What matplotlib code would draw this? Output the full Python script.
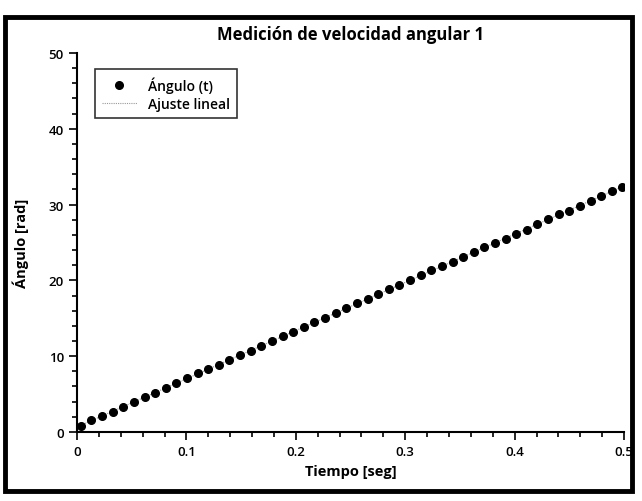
import numpy as np
import matplotlib
matplotlib.use("Agg")
import matplotlib.pyplot as plt
from matplotlib.patches import Rectangle

plt.rcParams['font.family'] = ['Open Sans', 'DejaVu Sans']

# Data
tiempo = [0.0034, 0.0131, 0.0228, 0.0325, 0.0422, 0.0520, 0.0617, 0.0714, 0.0811,
          0.0908, 0.1005, 0.1102, 0.1199, 0.1296, 0.1393, 0.1491, 0.1588, 0.1685,
          0.1782, 0.1879, 0.1976, 0.2073, 0.2170, 0.2267, 0.2364, 0.2462, 0.2559,
          0.2656, 0.2753, 0.2850, 0.2947, 0.3044, 0.3141, 0.3238, 0.3335, 0.3433,
          0.3530, 0.3627, 0.3724, 0.3821, 0.3918, 0.4015, 0.4112, 0.4209, 0.4306,
          0.4404, 0.4501, 0.4598, 0.4695, 0.4792, 0.4889, 0.4986]
angulo = [0.80, 1.62, 2.10, 2.60, 3.34, 4.00, 4.66, 5.15, 5.76,
          6.42, 7.08, 7.74, 8.27, 8.88, 9.50, 10.16, 10.73, 11.30,
          11.97, 12.60, 13.22, 13.85, 14.47, 15.09, 15.72, 16.34, 16.96,
          17.59, 18.21, 18.83, 19.45, 20.08, 20.70, 21.32, 21.94, 22.47,
          23.05, 23.71, 24.37, 24.93, 25.46, 26.12, 26.69, 27.44, 28.10,
          28.76, 29.20, 29.78, 30.51, 31.17, 31.83, 32.28]

titulo = "Medición de velocidad angular 1"
etiqueta_x = "Tiempo [seg]"
etiqueta_y = "Ángulo [rad]"
x_ticks = [0, 0.1, 0.2, 0.3, 0.4, 0.5]
x_ticklabels = ["0", "0.1", "0.2", "0.3", "0.4", "0.5"]
y_ticks = [0, 10, 20, 30, 40, 50]

t = np.array(tiempo)
a = np.array(angulo)
m, b = np.polyfit(t, a, 1)

fig = plt.figure(figsize=(6.42, 5.02), dpi=100)
ax = fig.add_axes([0.12, 0.1375, 0.852, 0.755])

ax.plot(t, m * t + b, linestyle=(0, (1, 1)), color='0.6', linewidth=0.8,
        label='Ajuste lineal', zorder=2)
ax.plot(t, a, linestyle='none', marker='o', markersize=5.5, color='black',
        label='Ángulo (t)', zorder=3)

ax.set_xlim(0, 0.5)
ax.set_ylim(0, 50)
ax.set_xticks(x_ticks)
ax.set_xticklabels(x_ticklabels)
ax.set_yticks(y_ticks)
ax.set_xticks(np.arange(0, 0.5001, 0.02), minor=True)
ax.set_yticks(np.arange(0, 50.001, 2), minor=True)
ax.tick_params(which='major', direction='out', length=6, width=1.2, labelsize=9.5)
ax.tick_params(which='minor', direction='out', length=3.5, width=1.2)
for lbl in ax.get_xticklabels() + ax.get_yticklabels():
    lbl.set_fontweight('semibold')

for s in ['top', 'right']:
    ax.spines[s].set_visible(False)
for s in ['left', 'bottom']:
    ax.spines[s].set_linewidth(1.5)

ax.set_title(titulo, fontsize=12, fontweight='bold', pad=10)
ax.set_xlabel(etiqueta_x, fontsize=10.5, fontweight='bold', labelpad=4)
ax.set_ylabel(etiqueta_y, fontsize=10.5, fontweight='bold', labelpad=14)

handles, labels = ax.get_legend_handles_labels()
leg = ax.legend(handles[::-1], labels[::-1], loc='upper left',
                bbox_to_anchor=(0.02, 0.975), frameon=True, fancybox=False,
                edgecolor='black', handlelength=2.5,
                borderpad=0.5, labelspacing=0.3,
                prop={'size': 10, 'weight': 'semibold'})
leg.get_frame().set_linewidth(1.2)

fig.patches.append(Rectangle((0.008, 0.02), 0.976, 0.944, transform=fig.transFigure,
                             fill=False, edgecolor='black', linewidth=3.5))

fig.savefig("out.png", dpi=100)
